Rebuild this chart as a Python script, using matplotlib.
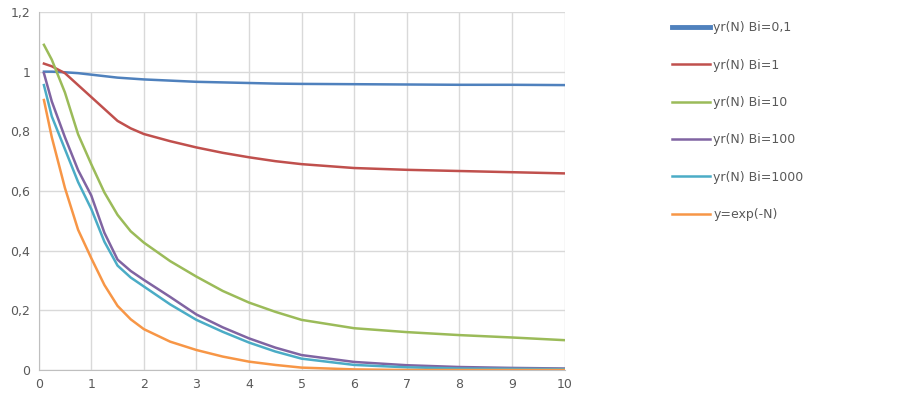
import numpy as np
from matplotlib import pyplot as plt
import matplotlib.ticker as mticker

# values
N = [0.1, 0.25, 0.5, 0.75, 1, 1.25, 1.5, 1.75, 2, 2.5, 3, 3.5, 4, 4.5, 5,
     6, 7, 8, 9, 10]

bi_01 = [1.0, 1.0, 0.998, 0.995, 0.99, 0.985, 0.98, 0.977, 0.974, 0.97, 0.966,
         0.964, 0.962, 0.96, 0.959, 0.958, 0.957, 0.956, 0.956, 0.955]
bi_1 = [1.027, 1.018, 0.995, 0.955, 0.915, 0.875, 0.835, 0.81, 0.791, 0.767,
        0.746, 0.728, 0.713, 0.7, 0.69, 0.677, 0.671, 0.667, 0.663, 0.659]
bi_10 = [1.09, 1.04, 0.93, 0.79, 0.69, 0.595, 0.52, 0.465, 0.427, 0.365, 0.313,
         0.265, 0.226, 0.195, 0.168, 0.14, 0.127, 0.117, 0.109, 0.1]
bi_100 = [0.995, 0.9, 0.78, 0.67, 0.585, 0.46, 0.37, 0.332, 0.302, 0.245, 0.186,
          0.143, 0.106, 0.075, 0.05, 0.027, 0.016, 0.01, 0.007, 0.005]
bi_1000 = [0.955, 0.85, 0.74, 0.63, 0.54, 0.43, 0.35, 0.31, 0.28, 0.22, 0.168,
           0.128, 0.092, 0.062, 0.038, 0.017, 0.009, 0.005, 0.004, 0.003]
exp_n = [0.905, 0.78, 0.61, 0.47, 0.375, 0.285, 0.215, 0.17, 0.137, 0.095, 0.067,
         0.045, 0.028, 0.017, 0.008, 0.002, 0.0, 0.0, 0.0, 0.0]

SERIES = [
    ("yr(N) Bi=0,1", bi_01, "#4F81BD"),
    ("yr(N) Bi=1", bi_1, "#C0504D"),
    ("yr(N) Bi=10", bi_10, "#9BBB59"),
    ("yr(N) Bi=100", bi_100, "#8064A2"),
    ("yr(N) Bi=1000", bi_1000, "#4BACC6"),
    ("y=exp(-N)", exp_n, "#F79646"),
]

fig = plt.figure(figsize=(8.99, 4.0), dpi=100)
ax = fig.add_axes([0.043, 0.075, 0.585, 0.895])

lines = []
for label, vals, color in SERIES:
    (ln,) = ax.plot(N, vals, color=color, lw=1.8, label=label)
    lines.append(ln)

ax.set_xlim(0, 10)
ax.set_ylim(0, 1.2)
ax.xaxis.set_major_locator(mticker.MultipleLocator(1))
ax.yaxis.set_major_locator(mticker.MultipleLocator(0.2))
ax.yaxis.set_major_formatter(
    mticker.FuncFormatter(lambda v, p: f"{v:g}".replace(".", ",") if v else "0"))
ax.grid(True, color="#D9D9D9", lw=1)
ax.set_axisbelow(True)
for s in ["top", "right"]:
    ax.spines[s].set_visible(False)
for s in ["left", "bottom"]:
    ax.spines[s].set_color("#BFBFBF")
ax.tick_params(length=0, labelsize=9, colors="#595959", pad=6)

leg = fig.legend(lines, [s[0] for s in SERIES], loc="upper left",
                 bbox_to_anchor=(0.735, 0.975), frameon=False, fontsize=9,
                 handlelength=3.0, handletextpad=0.3, labelspacing=1.95)
leg.get_lines()[0].set_linewidth(3.5)
for t in leg.get_texts():
    t.set_color("#595959")

fig.savefig("out.png", dpi=100)
